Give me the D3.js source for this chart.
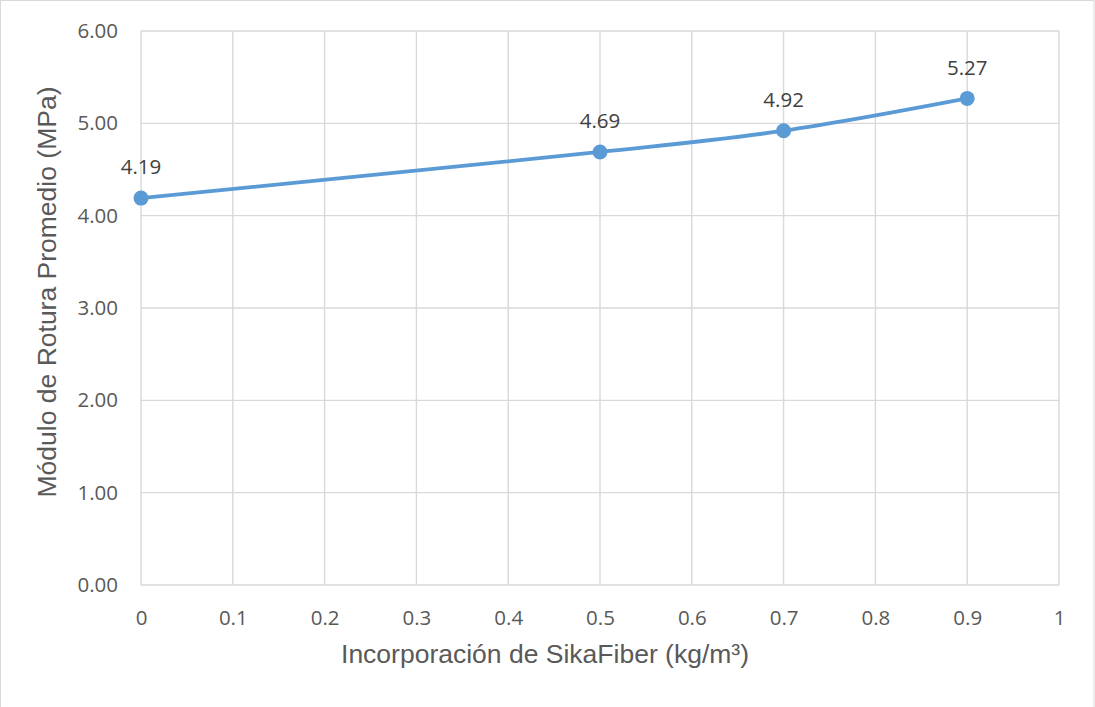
<!DOCTYPE html>
<html>
<head>
<meta charset="utf-8">
<script src="https://cdn.jsdelivr.net/npm/d3@7"></script>
<style>
  html, body { margin: 0; padding: 0; background: #fff; }
  svg { display: block; }
</style>
</head>
<body>
<svg id="chart" width="1095" height="707"></svg>
<script>
// Fibre dosage (kg/m³) and average modulus of rupture (MPa)
const dosages = [0, 0.5, 0.7, 0.9];
const modulus = [4.19, 4.69, 4.92, 5.27];
const xTicks = [0, 0.1, 0.2, 0.3, 0.4, 0.5, 0.6, 0.7, 0.8, 0.9, 1];
const yTicks = [0, 1, 2, 3, 4, 5, 6];
const xTitle = "Incorporación de SikaFiber (kg/m³)";
const yTitle = "Módulo de Rotura Promedio (MPa)";

const svg = d3.select("#chart");
const W = 1095, H = 707;
const plot = { left: 141, right: 1059, top: 31, bottom: 585 };
const numFont = "Open Sans, Lato, sans-serif";
const titleFont = "Liberation Sans, Arial, sans-serif";
const numSize = "20.5px";
const titleSize = "26.5px";

// chart frame
svg.append("rect")
  .attr("x", 0.5).attr("y", 0.5)
  .attr("width", W - 1.5).attr("height", H + 10)
  .attr("fill", "#fff").attr("stroke", "#d9d9d9").attr("stroke-width", 1);

const x = d3.scaleLinear().domain([0, 1]).range([plot.left, plot.right]);
const y = d3.scaleLinear().domain([0, 6]).range([plot.bottom, plot.top]);

// gridlines
const grid = svg.append("g").attr("stroke", "#d9d9d9").attr("stroke-width", 1.4);
grid.selectAll("line.v").data(xTicks).join("line")
  .attr("x1", d => x(d)).attr("x2", d => x(d))
  .attr("y1", plot.top).attr("y2", plot.bottom);
grid.selectAll("line.h").data(yTicks).join("line")
  .attr("x1", plot.left).attr("x2", plot.right)
  .attr("y1", d => y(d)).attr("y2", d => y(d));

// axes (labels only, lines are drawn by the grid)
const xAxis = svg.append("g")
  .attr("transform", `translate(0,${plot.bottom})`)
  .call(d3.axisBottom(x).tickValues(xTicks).tickSize(0)
    .tickFormat(d => d3.format("")(+d.toFixed(1))));
const yAxis = svg.append("g")
  .attr("transform", `translate(${plot.left},0)`)
  .call(d3.axisLeft(y).tickValues(yTicks).tickSize(0).tickPadding(23)
    .tickFormat(d3.format(".2f")));
[xAxis, yAxis].forEach(a => {
  a.select(".domain").remove();
  a.selectAll("text")
    .attr("fill", "#595959")
    .style("font-family", numFont)
    .style("font-size", numSize);
});
xAxis.selectAll("text").attr("dy", "0.35em").attr("y", 33);

// line series
const pts = dosages.map((d, i) => [d, modulus[i]]);
const line = d3.line()
  .x(d => x(d[0])).y(d => y(d[1]))
  .curve(d3.curveCardinal.tension(0));
svg.append("path").datum(pts)
  .attr("d", line)
  .attr("fill", "none")
  .attr("stroke", "#5b9bd5")
  .attr("stroke-width", 3.8)
  .attr("stroke-linecap", "round");

svg.selectAll("circle.pt").data(pts).join("circle")
  .attr("class", "pt")
  .attr("cx", d => x(d[0])).attr("cy", d => y(d[1]))
  .attr("r", 7.5).attr("fill", "#5b9bd5");

// value labels
svg.selectAll("text.val").data(pts).join("text")
  .attr("class", "val")
  .attr("x", d => x(d[0])).attr("y", d => y(d[1]) - 31)
  .attr("dy", "0.35em")
  .attr("text-anchor", "middle")
  .attr("fill", "#404040")
  .style("font-family", numFont)
  .style("font-size", numSize)
  .text(d => d[1].toFixed(2));

// axis titles
svg.append("text")
  .attr("x", 545).attr("y", 654)
  .attr("dy", "0.35em")
  .attr("text-anchor", "middle")
  .attr("fill", "#595959")
  .style("font-family", titleFont)
  .style("font-size", titleSize)
  .text(xTitle);

svg.append("text")
  .attr("transform", `translate(47,292) rotate(-90)`)
  .attr("dy", "0.35em")
  .attr("text-anchor", "middle")
  .attr("fill", "#595959")
  .style("font-family", titleFont)
  .style("font-size", titleSize)
  .text(yTitle);
</script>
</body>
</html>
